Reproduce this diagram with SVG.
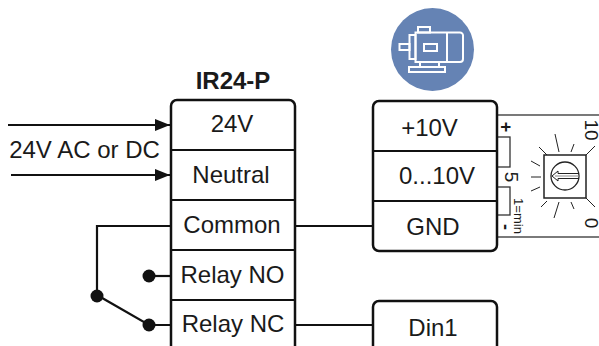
<svg xmlns="http://www.w3.org/2000/svg" width="599" height="346" viewBox="0 0 599 346">
<style>
text{font-family:"Liberation Sans",Arial,sans-serif;font-size:24px;fill:#1a1a1a;text-anchor:middle}
.box{fill:#fff;stroke:#111;stroke-width:2.5}
.div{stroke:#111;stroke-width:2;fill:none}
.w{stroke:#111;stroke-width:2.2;fill:none}
.ic{stroke:#fff;stroke-width:2;fill:none}
.thin{stroke:#222;stroke-width:1;fill:none}
.pt{fill:#fff;stroke:#333;stroke-width:1.3}
</style>
<defs><marker id="a" markerUnits="userSpaceOnUse" markerWidth="16" markerHeight="12" refX="15" refY="6" orient="auto"><path d="M0 0L15 6L0 12Z" fill="#111"/></marker></defs>
<g id="motor">
<circle cx="432.500" cy="49.500" r="41.500" fill="#6583b4"/>
<g class="ic"><path d="M415.500 32.500H460a3 3 0 0 1 3 3V59a3 3 0 0 1-3 3H415.500Z"/><rect x="409.500" y="35" width="6" height="24"/><rect x="399.500" y="44" width="10" height="6"/><rect x="418" y="27" width="12" height="5.500"/><rect x="424" y="44" width="13" height="7"/><path d="M447 33V62"/><path d="M420 62V67M439 62V67"/><rect x="409" y="67" width="36" height="5"/></g>
</g>
<g id="connectors">
<path class="w" d="M8 125H170" marker-end="url(#a)"/>
<path class="w" d="M11 175H170" marker-end="url(#a)"/>
<path class="w" d="M171 226H97V295L149 325H171"/>
<path class="w" d="M149 276H171"/>
<path class="w" d="M295 226H373"/>
<path class="w" d="M295 325H373"/>
<circle cx="97" cy="296" r="6.500" fill="#111"/>
<circle cx="149" cy="276" r="6.500" fill="#111"/>
<circle cx="149" cy="325" r="6.500" fill="#111"/>
</g>
<text x="233" y="89" style="font-weight:700">IR24-P</text>
<text x="84.500" y="158">24V AC or DC</text>
<g id="ir24">
<rect class="box" x="171" y="100" width="124" height="260" rx="6"/>
<path class="div" d="M171 150H295M171 200H295M171 250H295M171 300H295"/>
<text x="232" y="132">24V</text><text x="231" y="183">Neutral</text><text x="232" y="233">Common</text><text x="232.500" y="283">Relay NO</text><text x="233" y="332">Relay NC</text>
</g>
<g id="pot">
<rect class="pt" x="497" y="115" width="110" height="122"/>
<rect class="pt" x="497" y="137" width="13" height="30"/>
<rect class="pt" x="497" y="187" width="13" height="28"/>
<rect x="544" y="155" width="42" height="43" fill="#fff" stroke="#222" stroke-width="1.500"/>
<circle cx="565" cy="176" r="14" fill="#fff" stroke="#222" stroke-width="1.300"/>
<path class="thin" d="M579 173.500H558V171L552 176L558 181V178.500H579"/>
<path d="M555 176H579" stroke="#888" stroke-width="1" fill="none"/>
<path class="thin" d="M555 134L559 152M574 144L571 152M539 147L547 155M586 155L595 146M531 161L540 166M531 177H541M531 191L540 187M541 207L547 201M586 198L595 207M559 202L554 218M571 202L574 209"/>
<text transform="translate(500 127) rotate(90)" style="font-size:18px;font-weight:700">+</text>
<text transform="translate(500 227) rotate(90)" style="font-size:18px;font-weight:700">-</text>
<text transform="translate(585 130) rotate(90)" style="font-size:19px">10</text>
<text transform="translate(505 177) rotate(90)" style="font-size:19px">5</text>
<text transform="translate(585 223) rotate(90)" style="font-size:19px">0</text>
<text transform="translate(514 216) rotate(90)" style="font-size:13px">1=min</text>
</g>
<g id="in1">
<rect class="box" x="373" y="101" width="124" height="150" rx="6"/>
<path class="div" d="M373 151H497M373 201H497"/>
<text x="429.500" y="136">+10V</text><text x="437" y="184">0...10V</text><text x="433" y="235">GND</text>
</g>
<g id="din">
<rect class="box" x="373" y="301" width="124" height="70" rx="6"/>
<text x="433" y="336">Din1</text>
</g>
</svg>
